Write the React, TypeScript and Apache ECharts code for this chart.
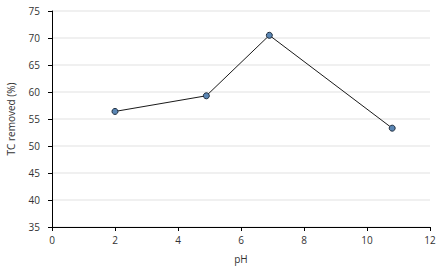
import React, { useEffect, useRef } from "react";
import * as echarts from "echarts";

const phValues = [2.0, 4.9, 6.9, 10.8];
const tcRemoved = [56.4, 59.3, 70.5, 53.3];
const xTicks = [0, 2, 4, 6, 8, 10, 12];
const yTicks = [35, 40, 45, 50, 55, 60, 65, 70, 75];

export default function App() {
  const ref = useRef<HTMLDivElement>(null);
  useEffect(() => {
    if (!ref.current) return;
    const chart = echarts.init(ref.current, null, { renderer: "svg" });
    const font = "Open Sans";
    chart.setOption({
      animation: false,
      backgroundColor: "#ffffff",
      grid: { left: 52, right: 7, top: 11, bottom: 44, containLabel: false, outerBoundsMode: "none" },
      xAxis: {
        type: "value",
        min: xTicks[0],
        max: xTicks[xTicks.length - 1],
        interval: 2,
        name: "pH",
        nameLocation: "middle",
        nameGap: 27,
        nameTextStyle: { fontFamily: font, fontSize: 10, color: "#333" },
        axisLine: { show: true, lineStyle: { color: "#000", width: 1 } },
        axisTick: { show: true, length: 4, lineStyle: { color: "#000" } },
        axisLabel: { fontFamily: font, fontSize: 10, color: "#333", margin: 8 },
        splitLine: { show: false },
      },
      yAxis: {
        type: "value",
        min: yTicks[0],
        max: yTicks[yTicks.length - 1],
        interval: 5,
        name: "TC removed (%)",
        nameLocation: "middle",
        nameGap: 36,
        nameTextStyle: { fontFamily: font, fontSize: 10, color: "#333" },
        axisLine: { show: true, lineStyle: { color: "#000", width: 1 } },
        axisTick: { show: true, length: 4, lineStyle: { color: "#000" } },
        axisLabel: { fontFamily: font, fontSize: 10, color: "#333", margin: 12 },
        splitLine: { show: true, lineStyle: { color: "#ebebeb", width: 1.5 } },
      },
      series: [
        {
          type: "line",
          data: phValues.map((x, i) => [x, tcRemoved[i]]),
          symbol: "circle",
          symbolSize: 6,
          lineStyle: { color: "#1a1a1a", width: 1 },
          itemStyle: { color: "#5a86b4", borderColor: "#1f2d3d", borderWidth: 1 },
        },
      ],
    });
    return () => chart.dispose();
  }, []);
  return <div ref={ref} style={{ width: 437, height: 271, position: "absolute", left: 0, top: 0 }} />;
}
